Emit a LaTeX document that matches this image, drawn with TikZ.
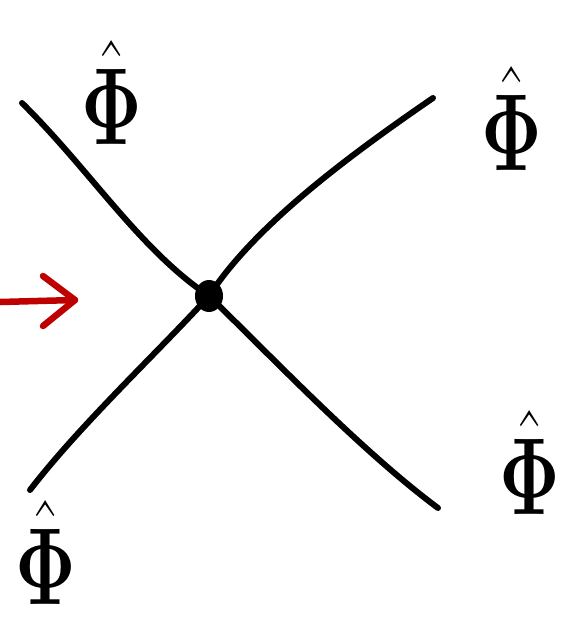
\documentclass[tikz,border=0pt]{standalone}
\usepackage{amsmath}
\usetikzlibrary{calc,shapes.geometric}
\newcommand{\hatphi}{\scalebox{3}[4.4]{$\hat{\mathbf{\Phi}}$}}
\begin{document}
\begin{tikzpicture}[x=1pt,y=-1pt,
  prop/.style={line width=6pt,line cap=round,line join=round,black},
  lbl/.style={inner sep=0pt,font=\Huge},
  redarrow/.style={line width=6.5pt,line cap=round,line join=round,red!75!black}]
\useasboundingbox (0,0) rectangle (564,625);
\node[ellipse,fill=black,minimum width=28pt,minimum height=32pt,inner sep=0pt] (v) at (209,296) {};
\coordinate (tl) at (22,103);
\coordinate (tr) at (433,98);
\coordinate (bl) at (30,490);
\coordinate (br) at (438,508);
\draw[prop] (tl) .. controls (90,170) and (140,250) .. (v.center);
\draw[prop] (tr) .. controls (350,155) and (255,225) .. (v.center);
\draw[prop] (bl) .. controls (80,425) and (160,350) .. (v.center);
\draw[prop] (br) .. controls (360,450) and (270,355) .. (v.center);
\node[lbl] (p1) at (112,92) {\hatphi};
\node[lbl] (p2) at (512,118) {\hatphi};
\node[lbl] (p3) at (530,462) {\hatphi};
\node[lbl] (p4) at (46,552) {\hatphi};
\coordinate (a0) at (0,302);
\coordinate (a1) at (75,300);
\draw[redarrow] (a0) -- (a1);
\draw[redarrow] (43,276) -- (a1) -- (43,326);
\end{tikzpicture}
\end{document}
